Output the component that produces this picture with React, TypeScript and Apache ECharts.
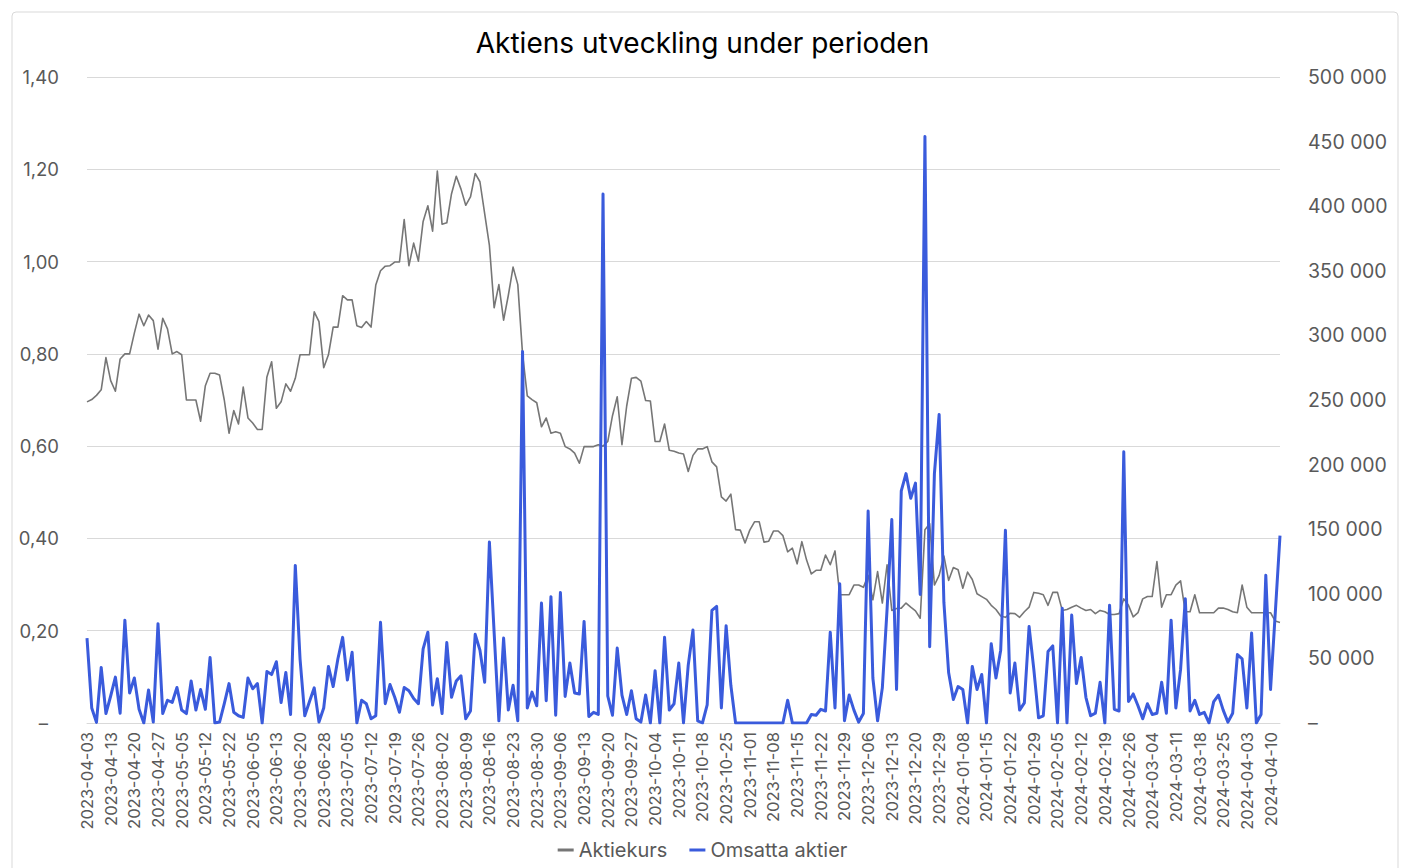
import React, { useEffect, useRef } from "react";
import * as echarts from "echarts";

const dates: string[] = [
  "2023-04-03","2023-04-04","2023-04-05","2023-04-06","2023-04-12","2023-04-13","2023-04-14","2023-04-17","2023-04-18","2023-04-19",
  "2023-04-20","2023-04-21","2023-04-24","2023-04-25","2023-04-26","2023-04-27","2023-04-28","2023-05-02","2023-05-03","2023-05-04",
  "2023-05-05","2023-05-08","2023-05-09","2023-05-10","2023-05-11","2023-05-12","2023-05-15","2023-05-16","2023-05-17","2023-05-19",
  "2023-05-22","2023-05-24","2023-05-26","2023-05-30","2023-06-01","2023-06-05","2023-06-07","2023-06-08","2023-06-09","2023-06-12",
  "2023-06-13","2023-06-14","2023-06-15","2023-06-16","2023-06-19","2023-06-20","2023-06-21","2023-06-22","2023-06-26","2023-06-27",
  "2023-06-28","2023-06-29","2023-06-30","2023-07-03","2023-07-04","2023-07-05","2023-07-06","2023-07-07","2023-07-10","2023-07-11",
  "2023-07-12","2023-07-13","2023-07-14","2023-07-17","2023-07-18","2023-07-19","2023-07-20","2023-07-21","2023-07-24","2023-07-25",
  "2023-07-26","2023-07-27","2023-07-28","2023-07-31","2023-08-01","2023-08-02","2023-08-03","2023-08-04","2023-08-07","2023-08-08",
  "2023-08-09","2023-08-10","2023-08-11","2023-08-14","2023-08-15","2023-08-16","2023-08-17","2023-08-18","2023-08-21","2023-08-22",
  "2023-08-23","2023-08-24","2023-08-25","2023-08-28","2023-08-29","2023-08-30","2023-08-31","2023-09-01","2023-09-04","2023-09-05",
  "2023-09-06","2023-09-07","2023-09-08","2023-09-11","2023-09-12","2023-09-13","2023-09-14","2023-09-15","2023-09-18","2023-09-19",
  "2023-09-20","2023-09-21","2023-09-22","2023-09-25","2023-09-26","2023-09-27","2023-09-28","2023-09-29","2023-10-02","2023-10-03",
  "2023-10-04","2023-10-05","2023-10-06","2023-10-09","2023-10-10","2023-10-11","2023-10-12","2023-10-13","2023-10-16","2023-10-17",
  "2023-10-18","2023-10-19","2023-10-20","2023-10-23","2023-10-24","2023-10-25","2023-10-26","2023-10-27","2023-10-30","2023-10-31",
  "2023-11-01","2023-11-02","2023-11-03","2023-11-06","2023-11-07","2023-11-08","2023-11-09","2023-11-10","2023-11-13","2023-11-14",
  "2023-11-15","2023-11-16","2023-11-17","2023-11-20","2023-11-21","2023-11-22","2023-11-23","2023-11-24","2023-11-27","2023-11-28",
  "2023-11-29","2023-11-30","2023-12-01","2023-12-04","2023-12-05","2023-12-06","2023-12-07","2023-12-08","2023-12-11","2023-12-12",
  "2023-12-13","2023-12-14","2023-12-15","2023-12-18","2023-12-19","2023-12-20","2023-12-21","2023-12-22","2023-12-27","2023-12-28",
  "2023-12-29","2024-01-02","2024-01-03","2024-01-04","2024-01-05","2024-01-08","2024-01-09","2024-01-10","2024-01-11","2024-01-12",
  "2024-01-15","2024-01-16","2024-01-17","2024-01-18","2024-01-19","2024-01-22","2024-01-23","2024-01-24","2024-01-25","2024-01-26",
  "2024-01-29","2024-01-30","2024-01-31","2024-02-01","2024-02-02","2024-02-05","2024-02-06","2024-02-07","2024-02-08","2024-02-09",
  "2024-02-12","2024-02-13","2024-02-14","2024-02-15","2024-02-16","2024-02-19","2024-02-20","2024-02-21","2024-02-22","2024-02-23",
  "2024-02-26","2024-02-27","2024-02-28","2024-02-29","2024-03-01","2024-03-04","2024-03-05","2024-03-06","2024-03-07","2024-03-08",
  "2024-03-11","2024-03-12","2024-03-13","2024-03-14","2024-03-15","2024-03-18","2024-03-19","2024-03-20","2024-03-21","2024-03-22",
  "2024-03-25","2024-03-26","2024-03-27","2024-03-28","2024-04-02","2024-04-03","2024-04-04","2024-04-05","2024-04-08","2024-04-09",
  "2024-04-10","2024-04-11","2024-04-12",
];

const aktiekurs: number[] = [
  0.696, 0.701, 0.710, 0.722, 0.792, 0.742, 0.719, 0.789, 0.800, 0.800,
  0.845, 0.886, 0.861, 0.884, 0.872, 0.810, 0.877, 0.854, 0.800, 0.805,
  0.798, 0.700, 0.700, 0.700, 0.654, 0.731, 0.758, 0.758, 0.754, 0.700,
  0.628, 0.677, 0.648, 0.728, 0.661, 0.650, 0.636, 0.636, 0.750, 0.783,
  0.682, 0.696, 0.735, 0.719, 0.747, 0.798, 0.798, 0.798, 0.891, 0.870,
  0.770, 0.798, 0.858, 0.858, 0.926, 0.917, 0.917, 0.861, 0.857, 0.870,
  0.858, 0.949, 0.980, 0.990, 0.991, 0.999, 0.999, 1.091, 0.991, 1.040,
  1.001, 1.087, 1.121, 1.066, 1.196, 1.081, 1.084, 1.147, 1.185, 1.157,
  1.122, 1.140, 1.191, 1.173, 1.104, 1.035, 0.900, 0.950, 0.873, 0.927,
  0.988, 0.950, 0.800, 0.709, 0.701, 0.694, 0.642, 0.661, 0.628, 0.631,
  0.628, 0.599, 0.594, 0.585, 0.563, 0.599, 0.599, 0.599, 0.603, 0.600,
  0.610, 0.666, 0.707, 0.603, 0.687, 0.747, 0.749, 0.741, 0.699, 0.698,
  0.610, 0.610, 0.648, 0.591, 0.589, 0.585, 0.583, 0.545, 0.580, 0.594,
  0.594, 0.599, 0.566, 0.555, 0.490, 0.481, 0.496, 0.419, 0.418, 0.390,
  0.418, 0.436, 0.436, 0.392, 0.394, 0.416, 0.416, 0.406, 0.371, 0.379,
  0.345, 0.393, 0.353, 0.323, 0.331, 0.331, 0.364, 0.343, 0.373, 0.278,
  0.278, 0.278, 0.299, 0.299, 0.294, 0.320, 0.267, 0.328, 0.260, 0.343,
  0.244, 0.248, 0.249, 0.260, 0.251, 0.243, 0.227, 0.419, 0.432, 0.299,
  0.320, 0.362, 0.309, 0.337, 0.332, 0.292, 0.327, 0.311, 0.280, 0.274,
  0.268, 0.255, 0.246, 0.232, 0.229, 0.238, 0.237, 0.229, 0.241, 0.251,
  0.283, 0.281, 0.278, 0.255, 0.283, 0.283, 0.244, 0.246, 0.251, 0.255,
  0.249, 0.244, 0.246, 0.237, 0.244, 0.241, 0.235, 0.235, 0.237, 0.269,
  0.255, 0.230, 0.239, 0.269, 0.274, 0.274, 0.350, 0.251, 0.278, 0.278,
  0.299, 0.308, 0.241, 0.241, 0.278, 0.239, 0.239, 0.239, 0.239, 0.249,
  0.249, 0.246, 0.241, 0.239, 0.299, 0.251, 0.239, 0.239, 0.239, 0.239,
  0.239, 0.221, 0.218,
];

const omsattaAktier: number[] = [
  65700, 11600, 500, 43000, 7300, 20900, 35500, 7600, 79600, 23200,
  34800, 10600, 0, 25500, 700, 76900, 7300, 17600, 15900, 27500,
  10000, 7300, 32500, 10000, 25900, 10600, 50700, 0, 700, 14900,
  30500, 8300, 5600, 4300, 34800, 26500, 30500, 0, 39800, 37500,
  47400, 15900, 39100, 6600, 122000, 49700, 5600, 16600, 27200, 700,
  11600, 43800, 28200, 49700, 66300, 33200, 54700, 0, 17600, 14900,
  3300, 5600, 77900, 14900, 29800, 19900, 8300, 27500, 24900, 18900,
  14900, 57400, 70300, 13900, 34200, 7300, 62300, 19900, 32500, 36500,
  3300, 9300, 68600, 56400, 31500, 140000, 70000, 1700, 65700, 10000,
  29200, 1700, 287500, 11600, 23900, 13300, 92800, 17200, 97800, 6000,
  101000, 20600, 46400, 23200, 22500, 78600, 5000, 8300, 6600, 409500,
  20900, 6000, 58000, 21600, 6600, 24900, 3300, 700, 21600, 0,
  40500, 0, 66300, 10000, 14900, 46400, 0, 44800, 72000, 1700,
  0, 14000, 87200, 90200, 11600, 75300, 29200, 0, 0, 0,
  0, 0, 0, 0, 0, 0, 0, 0, 17600, 0,
  0, 0, 0, 6600, 6000, 10600, 9300, 70300, 11600, 107800,
  1700, 21600, 10000, 700, 7300, 164000, 34800, 1700, 27200, 87900,
  157500, 25900, 179700, 193000, 174000, 185700, 99500, 454000, 59000, 193000,
  238800, 93500, 39100, 18200, 28200, 25900, 0, 43800, 25900, 37500,
  0, 61300, 34800, 56400, 149200, 23200, 46400, 10000, 15600, 74600,
  41500, 4000, 5600, 55400, 59700, 0, 88900, 0, 83600, 30500,
  50700, 19900, 5600, 7600, 31500, 0, 91200, 10600, 9300, 210000,
  16600, 22500, 13300, 3300, 14900, 6600, 7600, 31500, 7600, 79600,
  11600, 41500, 96200, 9300, 17600, 6600, 8300, 0, 16600, 21600,
  10000, 700, 7600, 53000, 49700, 11600, 69600, 0, 6600, 114400,
  25900, 85000, 145000,
];

const titleText = "Aktiens utveckling under perioden";
const seriesNames = ["Aktiekurs", "Omsatta aktier"];

const FONT = 'Inter, "Noto Sans", sans-serif';
const LABEL = "#595959";

export default function App() {
  const ref = useRef<HTMLDivElement>(null);
  useEffect(() => {
    if (!ref.current) return;
    const chart = echarts.init(ref.current, undefined, { renderer: "svg" });
    const option: any = {
      animation: false,
      backgroundColor: "#ffffff",
      textStyle: { fontFamily: FONT },
      graphic: [
        {
          type: "rect",
          shape: { x: 12, y: 12, width: 1386, height: 880, r: 4 },
          style: { fill: "none", stroke: "#d9d9d9", lineWidth: 1 },
          silent: true,
        },
      ],
      title: {
        text: titleText,
        left: "center",
        top: 24,
        textStyle: { fontFamily: FONT, fontSize: 28, fontWeight: 400, color: "#000000" },
      },
      legend: {
        bottom: 3,
        left: "center",
        itemGap: 22,
        itemWidth: 16,
        itemHeight: 3,
        textStyle: { fontFamily: FONT, fontSize: 20, color: LABEL },
        data: [
          { name: seriesNames[0], icon: "rect", itemStyle: { color: "#767676" } },
          { name: seriesNames[1], icon: "rect", itemStyle: { color: "#3a5bdc" } },
        ],
      },
      grid: { left: 87, top: 77, width: 1193, height: 646 },
      xAxis: {
        type: "category",
        data: dates,
        boundaryGap: false,
        axisLine: { show: true, lineStyle: { color: "#d9d9d9", width: 1 } },
        axisTick: { show: false },
        axisLabel: {
          rotate: 90,
          interval: 4,
          margin: 9,
          fontFamily: FONT,
          fontSize: 16.5,
          color: LABEL,
        },
      },
      yAxis: [
        {
          type: "value",
          min: 0,
          max: 1.4,
          interval: 0.2,
          axisLine: { show: false },
          axisTick: { show: false },
          splitLine: { lineStyle: { color: "#d9d9d9", width: 1 } },
          axisLabel: {
            margin: 28,
            fontFamily: FONT,
            fontSize: 18.5,
            color: LABEL,
            formatter: (v: number) => (v === 0 ? "{d|–}" : v.toFixed(2).replace(".", ",")),
            rich: { d: { fontFamily: FONT, fontSize: 18.5, color: LABEL, padding: [0, 11, 0, 0] } },
          },
        },
        {
          type: "value",
          min: 0,
          max: 500000,
          interval: 50000,
          axisLine: { show: false },
          axisTick: { show: false },
          splitLine: { show: false },
          axisLabel: {
            margin: 28,
            fontFamily: FONT,
            fontSize: 19.5,
            color: LABEL,
            formatter: (v: number) =>
              v === 0 ? "–" : String(v).replace(/\B(?=(\d{3})+(?!\d))/g, " "),
          },
        },
      ],
      series: [
        {
          name: seriesNames[0],
          type: "line",
          yAxisIndex: 0,
          data: aktiekurs,
          showSymbol: false,
          symbol: "none",
          lineStyle: { color: "#767676", width: 1.6, join: "round" },
          itemStyle: { color: "#767676" },
        },
        {
          name: seriesNames[1],
          type: "line",
          yAxisIndex: 1,
          data: omsattaAktier,
          showSymbol: false,
          symbol: "none",
          lineStyle: { color: "#3a5bdc", width: 3, join: "round" },
          itemStyle: { color: "#3a5bdc" },
        },
      ],
    };
    chart.setOption(option);
    return () => chart.dispose();
  }, []);
  return (
    <div
      ref={ref}
      style={{ position: "absolute", left: 0, top: 0, width: 1405, height: 868 }}
    />
  );
}
